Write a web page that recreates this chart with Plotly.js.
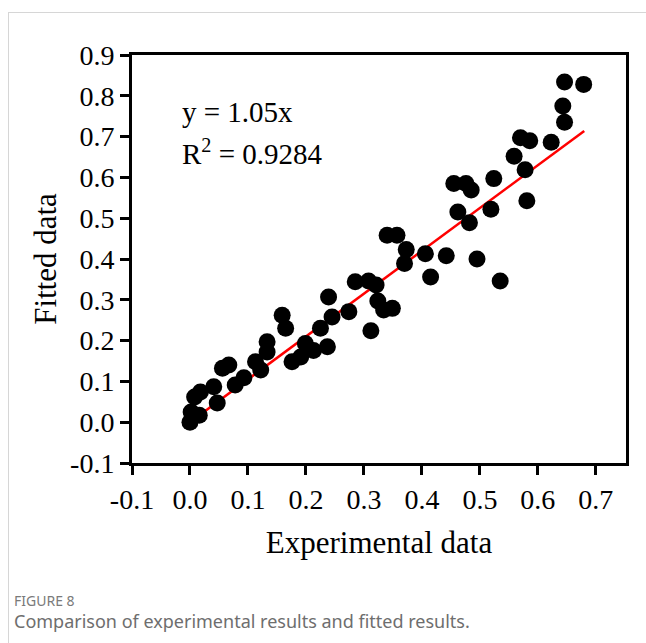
<!DOCTYPE html>
<html>
<head>
<meta charset="utf-8">
<script src="https://cdn.plot.ly/plotly-3.0.1.min.js"></script>
<style>
  html, body { margin: 0; padding: 0; background: #ffffff; }
  #wrap { position: relative; width: 646px; height: 643px; overflow: hidden; }
  #chart { position: absolute; left: 0; top: 0; width: 646px; height: 643px; }
  #frame {
    position: absolute; left: 8px; top: 12px; right: -2px; bottom: -2px;
    border-top: 1px solid #d6d6d6; border-left: 1px solid #d6d6d6;
    pointer-events: none;
  }
</style>
</head>
<body>
<div id="wrap">
  <div id="chart"></div>
  <div id="frame"></div>
</div>
<script>
// Experimental vs. fitted values
const experimental = [
  0.000, 0.002, 0.016, 0.008, 0.018, 0.041, 0.047, 0.056, 0.067, 0.078,
  0.093, 0.113, 0.122, 0.133, 0.133, 0.159, 0.165, 0.176, 0.191, 0.199,
  0.213, 0.225, 0.237, 0.239, 0.245, 0.274, 0.285, 0.308, 0.321, 0.312,
  0.324, 0.334, 0.349, 0.340, 0.357, 0.373, 0.370, 0.406, 0.415, 0.442,
  0.495, 0.535, 0.455, 0.476, 0.485, 0.524, 0.462, 0.519, 0.482, 0.559,
  0.578, 0.581, 0.570, 0.586, 0.623, 0.646, 0.679, 0.643, 0.646
];
const fitted = [
  0.000, 0.025, 0.017, 0.062, 0.074, 0.087, 0.047, 0.132, 0.140, 0.091,
  0.109, 0.148, 0.128, 0.197, 0.172, 0.262, 0.230, 0.148, 0.160, 0.193,
  0.176, 0.230, 0.185, 0.307, 0.258, 0.271, 0.344, 0.346, 0.336, 0.224,
  0.297, 0.275, 0.279, 0.458, 0.458, 0.423, 0.389, 0.413, 0.356, 0.408,
  0.400, 0.346, 0.585, 0.585, 0.569, 0.597, 0.515, 0.522, 0.489, 0.652,
  0.619, 0.543, 0.697, 0.690, 0.686, 0.834, 0.828, 0.775, 0.735
];

// Regression line y = slope * x
const fitSlope = 1.05;
const fitRange = [0, 0.68];
const rSquared = 0.9284;

// Axis ticks
const xTickVals = [-0.1, 0.0, 0.1, 0.2, 0.3, 0.4, 0.5, 0.6, 0.7];
const xTickText = ['-0.1', '0.0', '0.1', '0.2', '0.3', '0.4', '0.5', '0.6', '0.7'];
const yTickVals = [-0.1, 0.0, 0.1, 0.2, 0.3, 0.4, 0.5, 0.6, 0.7, 0.8, 0.9];
const yTickText = ['-0.1', '0.0', '0.1', '0.2', '0.3', '0.4', '0.5', '0.6', '0.7', '0.8', '0.9'];

const serif = 'Liberation Serif, Times New Roman, serif';
const sans = 'Noto Sans, Open Sans, sans-serif';

const points = {
  type: 'scatter', mode: 'markers',
  x: experimental, y: fitted,
  marker: { color: '#000000', size: 17, line: { width: 0 } },
  hoverinfo: 'x+y', showlegend: false
};

const fitLine = {
  type: 'scatter', mode: 'lines',
  x: fitRange, y: fitRange.map(v => fitSlope * v),
  line: { color: '#ff0000', width: 2.5 },
  hoverinfo: 'skip', showlegend: false
};

const axisCommon = {
  showgrid: false, zeroline: false,
  showline: true, linecolor: '#000000', linewidth: 3, mirror: true,
  ticks: 'outside', ticklen: 9, tickwidth: 3, tickcolor: '#000000',
  tickfont: { family: serif, size: 28, color: '#000000' },
  fixedrange: true
};

const layout = {
  width: 646, height: 643,
  margin: { l: 132, r: 20, t: 55, b: 180 },
  paper_bgcolor: 'rgba(0,0,0,0)', plot_bgcolor: '#ffffff',
  xaxis: Object.assign({}, axisCommon, {
    range: [-0.1, 0.752],
    tickvals: xTickVals, ticktext: xTickText,
    title: { text: 'Experimental data', font: { family: serif, size: 31, color: '#000000' }, standoff: 18 }
  }),
  yaxis: Object.assign({}, axisCommon, {
    range: [-0.1, 0.9],
    tickvals: yTickVals, ticktext: yTickText,
    title: { text: 'Fitted data', font: { family: serif, size: 31, color: '#000000' }, standoff: 5 }
  }),
  annotations: [
    { xref: 'x', yref: 'y', x: -0.017, y: 0.76, xanchor: 'left', yanchor: 'middle',
      text: 'y = ' + fitSlope.toFixed(2) + 'x', showarrow: false,
      font: { family: serif, size: 29, color: '#000000' } },
    { xref: 'x', yref: 'y', x: -0.017, y: 0.662, xanchor: 'left', yanchor: 'middle',
      text: 'R<sup>2</sup> = ' + rSquared.toFixed(4), showarrow: false,
      font: { family: serif, size: 29, color: '#000000' } },
    { xref: 'paper', yref: 'paper', x: -0.243, y: -0.338, xanchor: 'left', yanchor: 'middle',
      text: 'FIGURE 8', showarrow: false,
      font: { family: sans, size: 14, color: '#7a7a7a' } },
    { xref: 'paper', yref: 'paper', x: -0.243, y: -0.387, xanchor: 'left', yanchor: 'middle',
      text: 'Comparison of experimental results and fitted results.', showarrow: false,
      font: { family: sans, size: 18, color: '#6e6e6e' } }
  ]
};

Plotly.newPlot('chart', [fitLine, points], layout, { staticPlot: true, displayModeBar: false });
</script>
</body>
</html>
